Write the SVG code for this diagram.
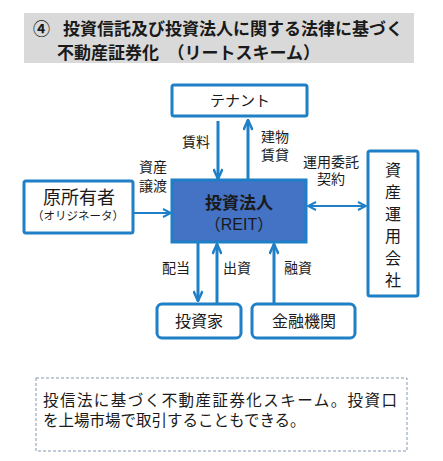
<svg xmlns="http://www.w3.org/2000/svg" width="443" height="461" viewBox="0 0 443 461">
<defs>
<style>
.box{fill:#fff;stroke:#1f80c8;stroke-width:3}
.reit{fill:#4472c4;stroke:#1f80c8;stroke-width:3}
.t{font-family:"Liberation Sans","Noto Sans CJK JP",sans-serif;fill:#1a1a1a}
.j{font-family:"Noto Sans CJK JP",sans-serif;fill:#1a1a1a}
.lbl{font-size:14px;text-anchor:middle}
.thick{stroke:#1f80c8;stroke-width:3;fill:none}
.thin{stroke:#1f80c8;stroke-width:2;fill:none}
</style>
<marker id="ah" viewBox="0 0 12 10" refX="11" refY="5" markerWidth="12" markerHeight="10" markerUnits="userSpaceOnUse" orient="auto-start-reverse">
<path d="M1,0.5 L11,5 L1,9.5" fill="none" stroke="#1f80c8" stroke-width="2.5"/>
</marker>
<marker id="ah2" viewBox="0 0 10 10" refX="9" refY="5" markerWidth="10" markerHeight="10" markerUnits="userSpaceOnUse" orient="auto-start-reverse">
<path d="M1,1 L9,5 L1,9" fill="none" stroke="#1f80c8" stroke-width="2"/>
</marker>
</defs>
<rect width="443" height="461" fill="#fff"/>
<g id="title">
<rect x="24" y="13" width="390" height="50" fill="#d9d9d9"/>
<text class="t" x="33" y="35" font-size="17" font-weight="bold">④</text>
<text class="t" x="63" y="35" font-size="17" font-weight="bold">投資信託及び投資法人に関する法律に基づく</text>
<text class="t" x="57" y="59" font-size="17" font-weight="bold">不動産証券化　（リートスキーム）</text>
</g>
<g id="connectors">
<line class="thick" x1="218" y1="121" x2="218" y2="179" marker-end="url(#ah)"/>
<line class="thick" x1="248" y1="180" x2="248" y2="120" marker-end="url(#ah)"/>
<line class="thin" x1="134" y1="213" x2="171" y2="213" marker-end="url(#ah2)"/>
<line class="thin" x1="308" y1="206" x2="366" y2="206" marker-start="url(#ah2)" marker-end="url(#ah2)"/>
<line class="thick" x1="198" y1="243" x2="198" y2="301" marker-end="url(#ah)"/>
<line class="thick" x1="217" y1="303" x2="217" y2="244" marker-end="url(#ah)"/>
<line class="thick" x1="274" y1="304" x2="274" y2="244" marker-end="url(#ah)"/>
<text class="t lbl" x="196" y="147">賃料</text>
<text class="t lbl" x="275" y="142">建物</text>
<text class="t lbl" x="275" y="160">賃貸</text>
<text class="t lbl" x="153" y="172">資産</text>
<text class="t lbl" x="153" y="191">譲渡</text>
<text class="t lbl" x="331" y="167">運用委託</text>
<text class="t lbl" x="331" y="184">契約</text>
<text class="t lbl" x="176" y="273">配当</text>
<text class="t lbl" x="237" y="273">出資</text>
<text class="t lbl" x="298" y="273">融資</text>
</g>
<g id="tenant">
<rect class="box" x="172" y="85" width="135" height="31" rx="2"/>
<text class="t" x="240" y="106" font-size="15" text-anchor="middle">テナント</text>
</g>
<g id="reit">
<rect class="reit" x="172" y="180" width="134" height="62"/>
<text class="t" x="239" y="209" font-size="17" font-weight="bold" text-anchor="middle">投資法人</text>
<text class="t" x="239" y="230" font-size="16" text-anchor="middle">（REIT）</text>
</g>
<g id="original-owner">
<rect class="box" x="24" y="181" width="109" height="52" rx="2"/>
<text class="t" x="79" y="204" font-size="18" text-anchor="middle">原所有者</text>
<text class="t" x="78" y="220" font-size="11.5" text-anchor="middle">（オリジネータ）</text>
</g>
<g id="asset-manager">
<rect class="box" x="368" y="151" width="50" height="145" rx="2"/>
<g class="j" font-size="16">
<text x="385" y="176">資</text>
<text x="385" y="198">産</text>
<text x="385" y="220">運</text>
<text x="385" y="242">用</text>
<text x="385" y="264">会</text>
<text x="385" y="286">社</text>
</g>
</g>
<g id="investor">
<rect class="box" x="157" y="304" width="84" height="34" rx="5"/>
<text class="t" x="199" y="327" font-size="16" text-anchor="middle">投資家</text>
</g>
<g id="bank">
<rect class="box" x="252" y="304" width="103" height="34" rx="5"/>
<text class="t" x="304" y="327" font-size="16" text-anchor="middle">金融機関</text>
</g>
<g id="note">
<rect x="36" y="378" width="371" height="73" fill="#fff" stroke="#8496b0" stroke-width="1" stroke-dasharray="3,2"/>
<text class="t" x="43" y="406" font-size="15.5" textLength="354">投信法に基づく不動産証券化スキーム。投資口</text>
<text class="t" x="43" y="426" font-size="15.5">を上場市場で取引することもできる。</text>
</g>
</svg>
